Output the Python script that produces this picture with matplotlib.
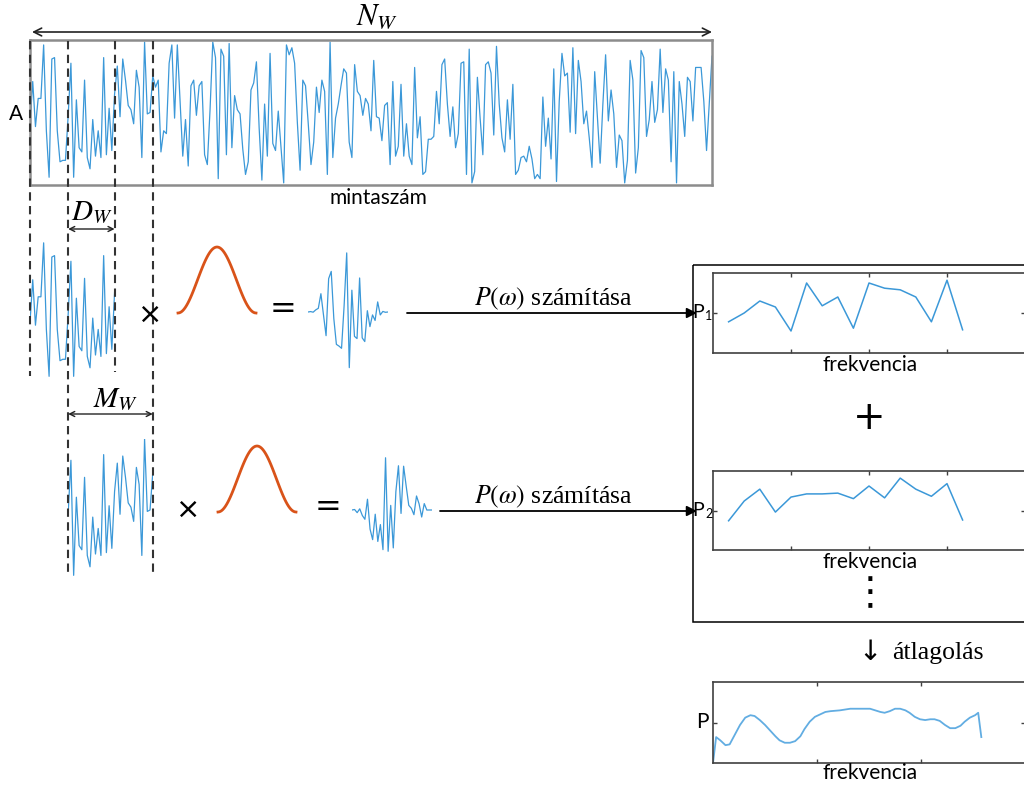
import matplotlib.pyplot as plt
import numpy as np
from matplotlib.patches import Rectangle

W, H = 1024, 785

signal = [42, 72, 40, 60, 60, 98, 37, 4, 88, 89, 37, 15, 16, 16, 48, 85, 4, 59, 25, 22,
          73, 18, 10, 45, 19, 37, 18, 89, 20, 53, 23, 63, 83, 47, 88, 73, 55, 52, 42, 80,
          68, 18, 100, 49, 50, 76, 68, 73, 22, 37, 35, 85, 98, 46, 98, 58, 19, 45, 12, 69,
          73, 48,
          69, 72, 20, 13, 52, 100, 89, 3, 95, 90, 20, 99, 25, 62, 52, 49, 24, 6, 15, 66,
          71, 86, 39, 2, 56, 19, 92, 28, 23, 51, 25, 0, 98, 91, 96, 85, 43, 9, 73, 69,
          42, 13, 29, 68, 50, 73, 65, 6, 100, 18, 46, 56, 69, 81, 78, 29, 18, 84, 65, 62,
          48, 60, 56,
          37, 87, 47, 46, 30, 55, 57, 13, 72, 19, 26, 70, 19, 42, 19, 13, 82, 32, 47, 6,
          8, 31, 31, 33, 65, 42, 84, 88, 56, 33, 54, 25, 35, 85, 86, 6, 95, 0, 8, 75,
          46, 20, 84, 86, 78, 34, 97, 56, 32, 22, 59, 31, 70, 6, 9, 18, 19, 15, 26, 17,
          3, 6, 3,
          61, 26, 46, 17, 81, 1, 58, 92, 76, 78, 36, 96, 35, 87, 72, 42, 51, 32, 11, 79,
          46, 14, 56, 91, 44, 66, 49, 11, 34, 30, 0, 16, 87, 73, 7, 25, 94, 89, 33, 45,
          72, 43, 52, 95, 50, 81, 73, 15, 79, 0, 72, 56, 33, 75, 72, 44, 82, 82, 82, 58,
          23, 56, 90]

# segment boundaries (sample index): start, stop
seg1 = (0, 32)
seg2 = (14, 46)
win_len = 64

# periodograms of the two segments (relative)
p1 = [0.39, 0.50, 0.65, 0.575, 0.275, 0.875, 0.59, 0.70, 0.31, 0.875, 0.81, 0.79, 0.70, 0.39, 0.91, 0.29]
p2 = [0.37, 0.62, 0.77, 0.48, 0.67, 0.71, 0.71, 0.72, 0.65, 0.81, 0.66, 0.91, 0.77, 0.68, 0.84, 0.38]

# averaged spectrum
avg_freq = [0, 0.03, 0.07, 0.12, 0.16, 0.21, 0.26, 0.31, 0.36, 0.40, 0.45, 0.50, 0.55, 0.60,
            0.64, 0.69, 0.74, 0.79, 0.84, 0.88, 0.93, 0.98, 1.03, 1.08, 1.13, 1.22, 1.32,
            1.41, 1.51, 1.56, 1.61, 1.65, 1.70, 1.75, 1.80, 1.85, 1.89, 1.94, 1.99, 2.04,
            2.09, 2.13, 2.18, 2.23, 2.28, 2.33, 2.38, 2.42, 2.47, 2.52, 2.55, 2.58]
avg_power = [0, 0.32, 0.28, 0.22, 0.23, 0.35, 0.47, 0.56, 0.59, 0.58, 0.53, 0.47, 0.40, 0.33,
             0.28, 0.25, 0.25, 0.27, 0.33, 0.42, 0.51, 0.57, 0.60, 0.63, 0.64, 0.65, 0.67,
             0.67, 0.67, 0.65, 0.63, 0.62, 0.64, 0.67, 0.67, 0.65, 0.62, 0.57, 0.54, 0.53,
             0.54, 0.54, 0.52, 0.47, 0.43, 0.43, 0.46, 0.51, 0.56, 0.59, 0.62, 0.32]

plt.rcParams['font.family'] = ['Lato', 'DejaVu Sans']
plt.rcParams['mathtext.fontset'] = 'stix'

blue = '#3b98d8'
light_blue = '#62ade2'
orange = '#d95319'
gray = '#8c8c8c'
dark = '#404040'
serif = ['Liberation Serif', 'DejaVu Serif']

fig = plt.figure(figsize=(W / 100, H / 100), dpi=100)


def px_axes(x0, y0, x1, y1):
    return fig.add_axes([x0 / W, 1 - y1 / H, (x1 - x0) / W, (y1 - y0) / H])


sig = np.array(signal, dtype=float)
n = len(sig)
X0, X1 = 30, 712
step = (X1 - X0) / (n - 1)

# main signal
ax = px_axes(X0, 40, X1, 185)
ax.plot(np.arange(n), sig, color=blue, lw=0.9)
ax.set_xlim(0, n - 1)
ax.set_ylim(-1.5, 101.5)
ax.set_xticks([])
ax.set_yticks([])
for s in ax.spines.values():
    s.set_color(gray)
    s.set_linewidth(1.8)

# cut segments, same vertical scale as the main plot
for (a, b), ytop in [(seg1, 240), (seg2, 439)]:
    sa = px_axes(X0 + a * step, ytop, X0 + (b - 1) * step, ytop + 142)
    sa.plot(np.arange(a, b), sig[a:b], color=blue, lw=0.9)
    sa.set_xlim(a, b - 1)
    sa.set_ylim(0, 100)
    sa.axis('off')

# hann windows
win = np.hanning(win_len)
for x0, ytop in [(178, 247), (218, 446)]:
    wa = px_axes(x0, ytop, x0 + 78, ytop + 66)
    wa.plot(np.arange(win_len), win, color=orange, lw=2, clip_on=False)
    wa.set_xlim(0, win_len - 1)
    wa.set_ylim(0, 1)
    wa.axis('off')

# windowed segments
for (a, b), x0, yzero in [(seg1, 308, 312), (seg2, 352, 510)]:
    part = sig[a:b]
    windowed = (part - part.mean()) * np.hanning(b - a)
    ga = px_axes(x0, yzero - 71, x0 + 80, yzero + 71)
    ga.plot(np.arange(b - a), windowed, color=blue, lw=0.9)
    ga.set_xlim(0, b - a - 1)
    ga.set_ylim(-50, 50)
    ga.axis('off')


def spec_axes(ytop, ybot):
    pa = px_axes(713, ytop, 1025, ybot)
    for s in pa.spines.values():
        s.set_color(dark)
        s.set_linewidth(1.2)
    pa.tick_params(direction='in', top=True, right=True, length=3, width=1,
                   color=dark, labelbottom=False, labelleft=False)
    pa.set_ylim(0, 1)
    pa.set_yticks([0.5])
    return pa


for vals, ytop, ybot in [(p1, 273, 353), (p2, 471, 550)]:
    pa = spec_axes(ytop, ybot)
    pa.plot(np.arange(len(vals)), vals, color=blue, lw=1.1)
    pa.set_xlim(-1, 19)
    pa.set_xticks([4, 9, 14])

pa = spec_axes(682, 763)
pa.plot(avg_freq, avg_power, color=light_blue, lw=1.3)
pa.set_xlim(0, 3)
pa.set_xticks([1, 2])

# overlay for annotations, in pixel coordinates
ov = fig.add_axes([0, 0, 1, 1])
ov.set_xlim(0, W)
ov.set_ylim(H, 0)
ov.axis('off')

xs1, xe1 = X0 + seg1[0] * step, X0 + (seg1[1] - 1) * step
xs2, xe2 = X0 + seg2[0] * step, X0 + (seg2[1] - 1) * step
for x, yb in [(xs1, 376), (xe1, 372), (xs2, 576), (xe2, 576)]:
    ov.plot([x, x], [41, yb], color='#333333', lw=1.5, dashes=(4, 2.6))

arrow_kw = dict(arrowstyle='<->', color='#222222', lw=1.2, shrinkA=0, shrinkB=0)
ov.annotate('', xy=(X1, 32), xytext=(X0 + 2, 32), arrowprops=dict(arrow_kw, mutation_scale=14))
ov.annotate('', xy=(xe1, 229), xytext=(xs2, 229), arrowprops=dict(arrow_kw, lw=1, mutation_scale=9))
ov.annotate('', xy=(xe2, 414), xytext=(xs2, 414), arrowprops=dict(arrow_kw, lw=1, mutation_scale=9))

ov.text(377, 17, r'$N_W$', fontsize=22, ha='center', va='center')
ov.text(92, 212, r'$D_W$', fontsize=21, ha='center', va='center')
ov.text(116, 399, r'$M_W$', fontsize=21, ha='center', va='center')

ov.text(16, 114, 'A', fontsize=15, ha='center', va='center')
ov.text(378, 198, 'mintaszám', fontsize=15, ha='center', va='center')

for x, y in [(150, 315), (188, 510)]:
    ov.text(x, y, '×', fontsize=21, ha='center', va='center', family='DejaVu Sans')
for x, y in [(283, 309), (328, 508)]:
    ov.text(x, y, '=', fontsize=23, ha='center', va='center', family='DejaVu Sans')

for x0, y in [(407, 313), (440, 511)]:
    ov.annotate('', xy=(697, y), xytext=(x0, y),
                arrowprops=dict(arrowstyle='-|>', color='k', lw=1.3, mutation_scale=15,
                                shrinkA=0, shrinkB=0))
    ov.text(553, y - 14, r'$P(\omega)$ számítása', fontsize=18.5, ha='center', va='center',
            family=serif)

ov.add_patch(Rectangle((693, 265), 345, 357, fill=False, ec='k', lw=1.1))

for y, sub in [(313, '1'), (511, '2')]:
    ov.text(692, y, 'P', fontsize=14, ha='left', va='center')
    ov.text(705, y + 3, sub, fontsize=9, ha='left', va='center')
ov.text(709, 722, 'P', fontsize=15, ha='right', va='center')
for y in [365, 562, 773]:
    ov.text(870, y, 'frekvencia', fontsize=15, ha='center', va='center')

ov.text(869, 418, '+', fontsize=28, ha='center', va='center', family='DejaVu Sans')
ov.text(870, 593, '⋮', fontsize=28, ha='center', va='center', family='DejaVu Sans')
ov.text(870, 652, '↓', fontsize=20, ha='center', va='center', family='DejaVu Sans')
ov.text(892, 653, 'átlagolás', fontsize=18.5, ha='left', va='center', family=serif)

fig.savefig('out.png', dpi=100)
